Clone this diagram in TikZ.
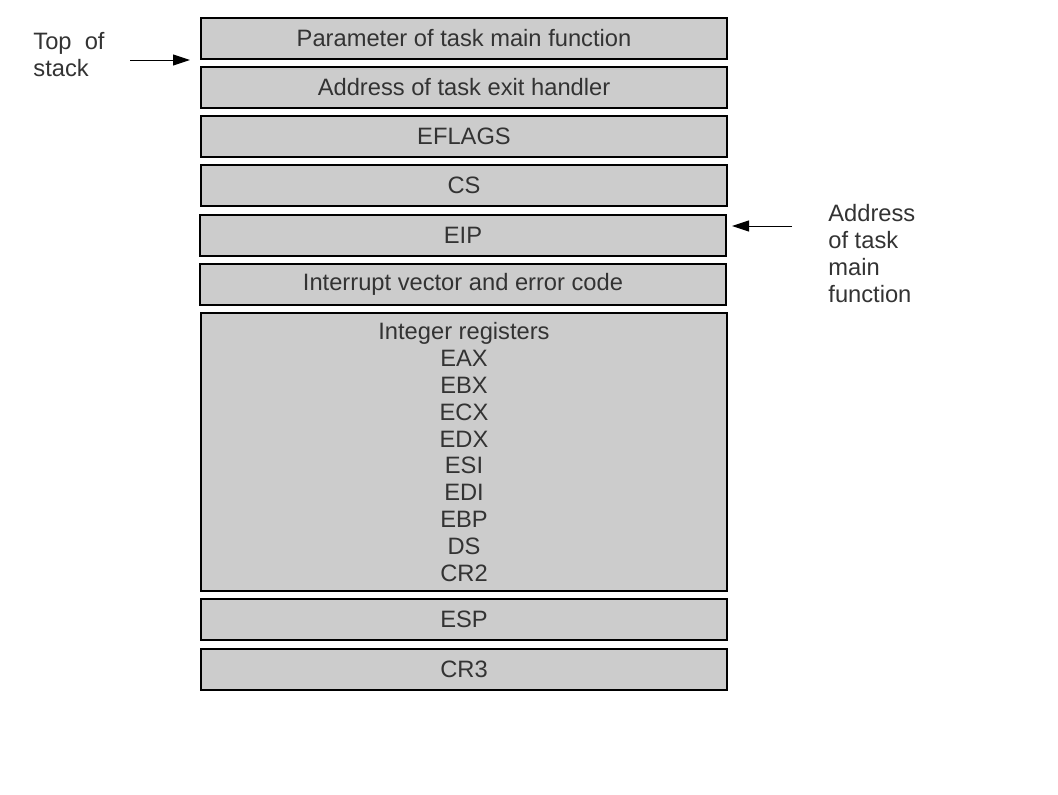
\documentclass[tikz,border=0pt]{standalone}
\usepackage{fontspec}
\setmainfont{Liberation Sans}
\usetikzlibrary{arrows.meta,positioning}
\definecolor{slotfill}{HTML}{CCCCCC}
\definecolor{slottext}{HTML}{333333}
\tikzset{
  slot/.style={draw=black, line width=0.6pt, fill=slotfill, text=slottext,
    minimum width=263pt, minimum height=20.5pt, inner sep=0pt,
    font=\fontsize{11.85}{13.45}\selectfont, align=center},
  note/.style={text=slottext, inner sep=0pt, align=left,
    font=\fontsize{11.85}{13.5}\selectfont},
  pointer/.style={-{Triangle[length=8.5pt,width=5.5pt]}, line width=0.5pt}
}

\begin{document}
\begin{tikzpicture}[x=0.5pt, y=-0.5pt]
\useasboundingbox (0,0) rectangle (1058,794);

% stack frame, top to bottom
\node[slot] (param)  at (464,38.5)  {Parameter of task main function};
\node[slot] (exit)   at (464,87.5)  {Address of task exit handler};
\node[slot] (eflags) at (464,136.5) {EFLAGS};
\node[slot] (cs)     at (464,185.5) {CS};
\node[slot] (eip)    at (463,235.5) {EIP};
\node[slot] (vector) at (463,284.5) {Interrupt vector and error code};
\node[slot, minimum height=139pt] (regs) at (464,452)
  {Integer registers\\EAX\\EBX\\ECX\\EDX\\ESI\\EDI\\EBP\\DS\\CR2};
\node[slot] (esp)    at (464,619.5) {ESP};
\node[slot] (cr3)    at (464,669.5) {CR3};

% labels on the sides
\node[note, anchor=west] (top) at (33,54.5) {Top\ \ of\\stack};
\node[note, anchor=west] (main) at (828,253.5) {Address\\of task\\main\\function};

% pointers
\coordinate (topfrom) at (130,60);
\coordinate (topto)   at (190,60);
\coordinate (mainfrom) at (792,226);
\coordinate (mainto)   at (732,226);
\draw[pointer] (topfrom) -- (topto);
\draw[pointer] (mainfrom) -- (mainto);

\end{tikzpicture}
\end{document}
